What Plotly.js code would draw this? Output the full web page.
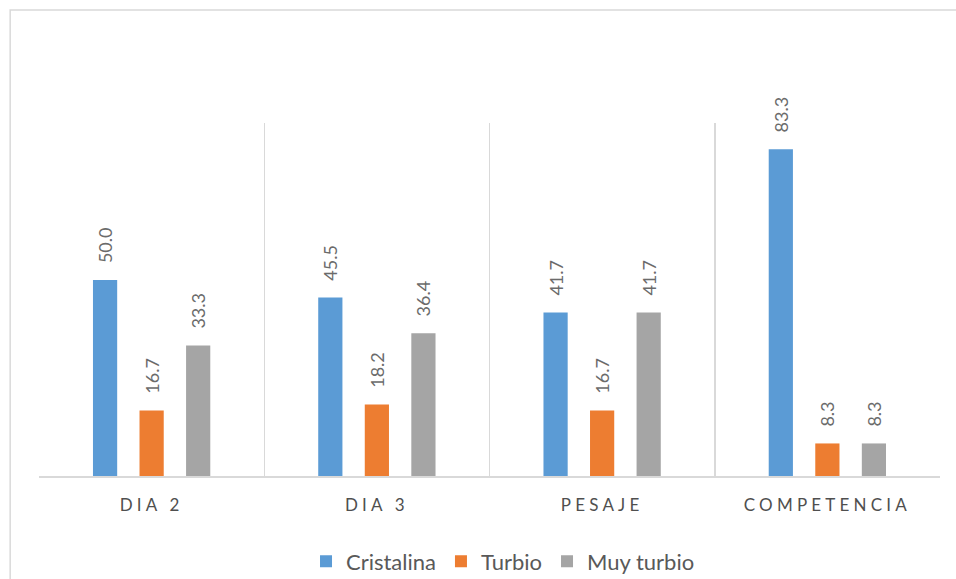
<!DOCTYPE html>
<html>
<head>
<meta charset="utf-8">
<script src="https://cdn.plot.ly/plotly-3.0.1.min.js"></script>
<style>
  html, body { margin: 0; padding: 0; background: #ffffff; }
  #chart { width: 956px; height: 579px; }
</style>
</head>
<body>
<div id="chart"></div>
<script>
// Categories and percentage values per water condition
const categories = ["DIA 2", "DIA 3", "PESAJE", "COMPETENCIA"];
const cristalina = [50.0, 45.5, 41.7, 83.3];
const turbio = [16.7, 18.2, 16.7, 8.3];
const muyTurbio = [33.3, 36.4, 41.7, 8.3];

const seriesNames = ["Cristalina", "Turbio", "Muy turbio"];
const seriesColors = ["#5B9BD5", "#ED7D31", "#A5A5A5"];
const seriesValues = [cristalina, turbio, muyTurbio];

const labelFont = { family: "Lato, 'Open Sans', sans-serif", size: 18, color: "#6b6b6b" };
// non-breaking spaces lift the rotated value labels clear of the bar tops
const pad = "\u00a0\u00a0\u00a0";

const traces = seriesValues.map((vals, i) => ({
  type: "bar",
  name: seriesNames[i],
  x: categories,
  y: vals,
  marker: { color: seriesColors[i] },
  text: vals.map(v => pad + v.toFixed(1)),
  textposition: "outside",
  textangle: -90,
  textfont: labelFont,
  constraintext: "none",
  cliponaxis: false,
  hoverinfo: "skip"
}));

const layout = {
  width: 956,
  height: 579,
  margin: { l: 39, r: 16, t: 123, b: 103, autoexpand: false },
  paper_bgcolor: "#ffffff",
  plot_bgcolor: "#ffffff",
  barmode: "group",
  bargap: 0.38,
  bargroupgap: 0.48,
  showlegend: true,
  legend: {
    orientation: "h",
    x: 0.515,
    xanchor: "center",
    y: -0.242,
    yanchor: "middle",
    font: { family: "Lato, 'Open Sans', sans-serif", size: 22, color: "#595959" },
    itemwidth: 30,
    traceorder: "normal"
  },
  xaxis: {
    type: "category",
    range: [-0.5, 3.5],
    tickson: "boundaries",
    ticks: "",
    showgrid: true,
    gridcolor: "#d9d9d9",
    gridwidth: 1.5,
    showline: true,
    linecolor: "#d9d9d9",
    linewidth: 1.5,
    tickfont: { family: "Lato, 'Open Sans', sans-serif", size: 17, color: "#4f4f4f" },
    ticklabelstandoff: 13,
    fixedrange: true
  },
  yaxis: {
    range: [0, 90],
    showgrid: false,
    zeroline: false,
    showticklabels: false,
    ticks: "",
    showline: false,
    fixedrange: true
  },
  shapes: [{
    type: "rect",
    xref: "paper",
    yref: "paper",
    x0: -0.032,
    x1: 1.05,
    y0: -0.5,
    y1: 1.32,
    line: { color: "#d9d9d9", width: 1.5 },
    layer: "below"
  }]
};

Plotly.newPlot("chart", traces, layout, { displayModeBar: false, staticPlot: true }).then(gd => {
  gd.querySelectorAll(".xtick text").forEach(t => {
    t.style.letterSpacing = "4.2px";
  });
});
</script>
</body>
</html>
